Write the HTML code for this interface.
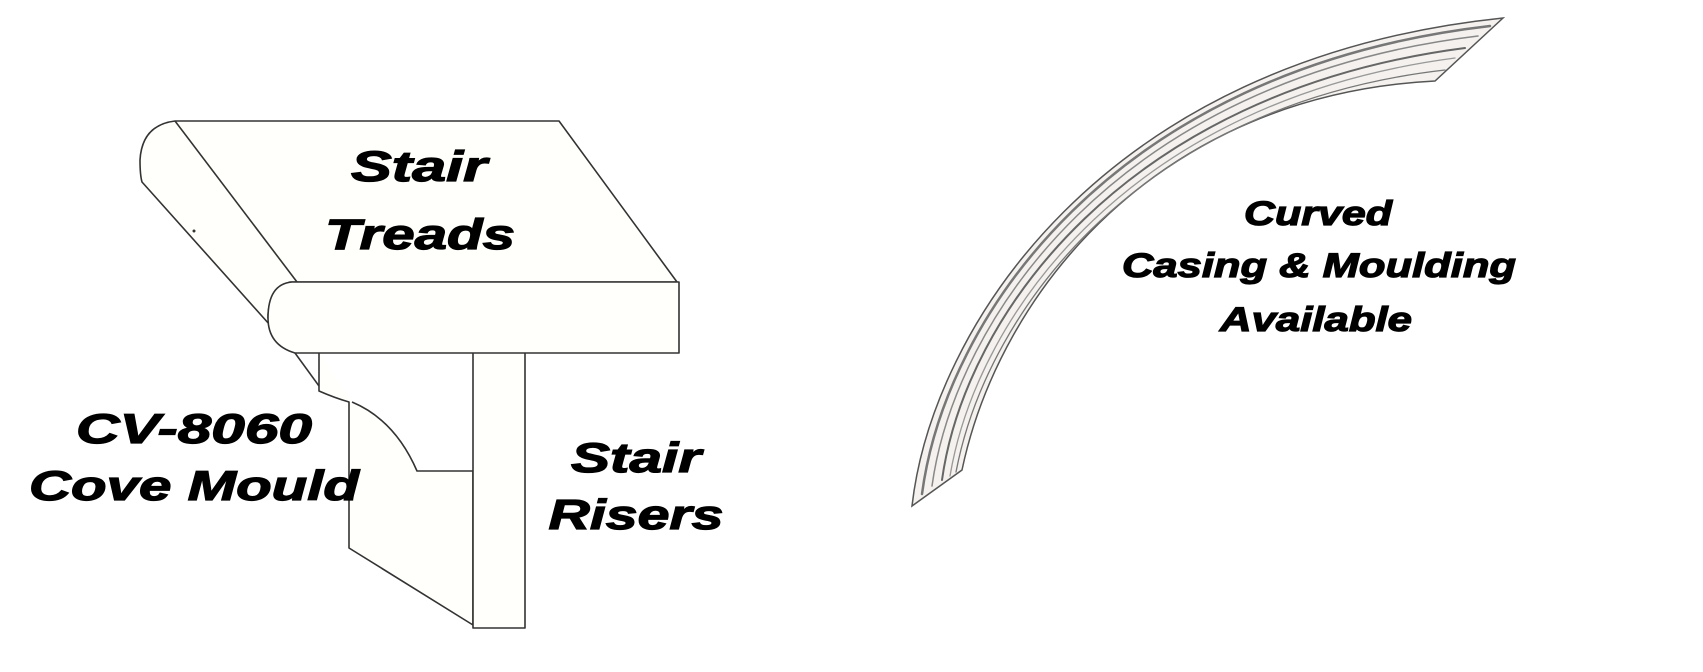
<!DOCTYPE html>
<html><head><meta charset="utf-8"><style>
html,body{margin:0;padding:0;background:#fff;}
svg{display:block;}
text{font-family:"Liberation Sans",sans-serif;font-weight:bold;font-style:italic;fill:#000;stroke:#000;stroke-width:1.2;}
</style></head><body>
<svg width="1703" height="672" viewBox="0 0 1703 672" xmlns="http://www.w3.org/2000/svg">
<g fill="#fffffb" stroke="#333" stroke-width="1.6" stroke-linejoin="round">
  <path d="M319,352 L319,391 Q335,398 349,402 L349,548 L473,625 L473,471 L417,471 Q395,420 352,402"/>
  <rect x="473" y="352" width="52" height="276"/>
  <path d="M175,121 L559,121 L677,282 L290,282 Q268,290 268,318 L295,353 L142,182 Q140,175 140,160 Q142,125 175,121 Z"/>
  <line x1="175" y1="121" x2="297" y2="282"/>
  <path d="M292,282 L679,282 L679,353 L295,353 Q268,345 268,318 Q268,284 292,282 Z"/>
  <line x1="295" y1="353" x2="319" y2="386"/>
</g>
<circle cx="194" cy="231" r="1.5" fill="#333"/>
<g fill="none" stroke-linecap="round">
  <path d="M912,506 C932,330 1100,60 1503,18 L1435,81 C1160,95 1000,290 962,470 Z" fill="#f4f1ee" stroke="#555" stroke-width="1.5"/>
  <path d="M922,494 C945,320 1110,70 1490,26" stroke="#777" stroke-width="2.5"/>
  <path d="M932,486 C955,320 1115,80 1478,36" stroke="#888" stroke-width="1.5"/>
  <path d="M942,480 C965,315 1125,92 1465,48" stroke="#666" stroke-width="2"/>
  <path d="M950,476 C978,310 1135,100 1455,58" stroke="#999" stroke-width="1.3"/>
  <path d="M956,472 C988,305 1145,104 1445,70" stroke="#777" stroke-width="1.3"/>
</g>
<text x="419" y="181" font-size="43" text-anchor="middle" textLength="136" lengthAdjust="spacingAndGlyphs">Stair</text>
<text x="420" y="249" font-size="43" text-anchor="middle" textLength="190" lengthAdjust="spacingAndGlyphs">Treads</text>
<text x="194" y="443" font-size="42" text-anchor="middle" textLength="236" lengthAdjust="spacingAndGlyphs">CV-8060</text>
<text x="29" y="500" font-size="42" textLength="330" lengthAdjust="spacingAndGlyphs">Cove Mould</text>
<text x="636" y="472" font-size="42" text-anchor="middle" textLength="130" lengthAdjust="spacingAndGlyphs">Stair</text>
<text x="636" y="529" font-size="42" text-anchor="middle" textLength="175" lengthAdjust="spacingAndGlyphs">Risers</text>
<text x="1318" y="225" font-size="34" text-anchor="middle" textLength="148" lengthAdjust="spacingAndGlyphs">Curved</text>
<text x="1122" y="277" font-size="34" textLength="394" lengthAdjust="spacingAndGlyphs">Casing &amp; Moulding</text>
<text x="1220" y="331" font-size="34" textLength="192" lengthAdjust="spacingAndGlyphs">Available</text>
</svg>
</body></html>
